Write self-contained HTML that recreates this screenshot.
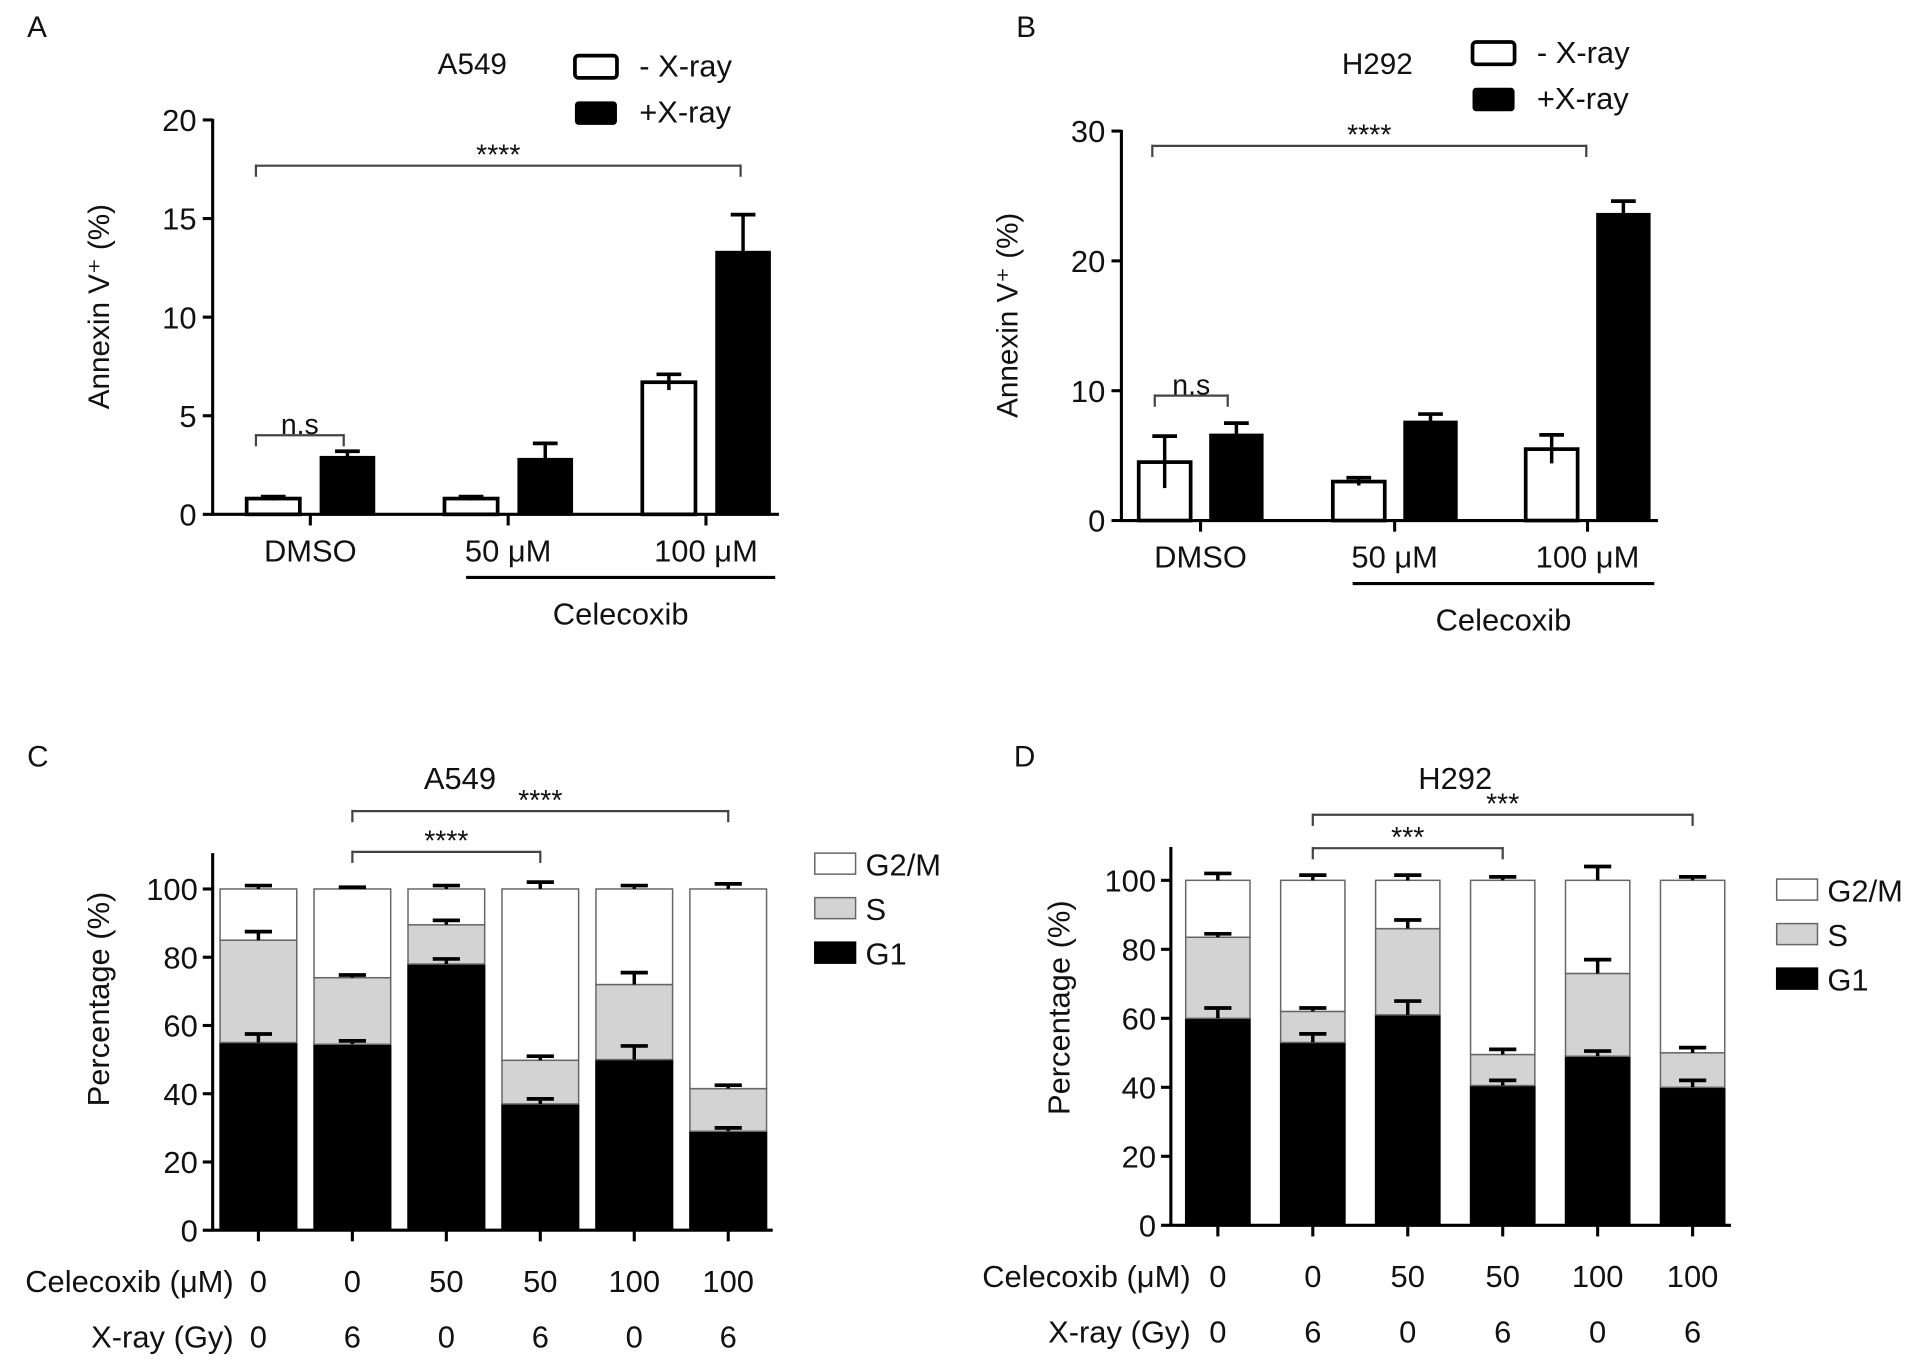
<!DOCTYPE html>
<html><head><meta charset="utf-8">
<style>
html,body{margin:0;padding:0;background:#fff;}
svg{display:block;font-family:"Liberation Sans",Arial,sans-serif;}
</style></head>
<body>
<svg id="fig" width="1930" height="1365" viewBox="0 0 1561 1104" preserveAspectRatio="none" xmlns="http://www.w3.org/2000/svg">
<rect width="1561" height="1104" fill="#fff"/>
</svg>
<script>
// Panel A/B data (Annexin V+ %)
const groupLabels = ["DMSO", "50 \u03bcM", "100 \u03bcM"];
const aNoX = [0.8, 0.8, 6.7];
const aNoXErr = [0.1, 0.1, 0.4];
const aX = [2.9, 2.8, 13.3];
const aXErr = [0.3, 0.8, 1.9];
const aTicks = [0, 5, 10, 15, 20];
const bNoX = [4.5, 3.0, 5.5];
const bNoXErr = [2.0, 0.3, 1.1];
const bX = [6.6, 7.6, 23.6];
const bXErr = [0.9, 0.6, 1.0];
const bTicks = [0, 10, 20, 30];
// Panel C/D data (cell cycle %)
const celecoxib = ["0", "0", "50", "50", "100", "100"];
const xray = ["0", "6", "0", "6", "0", "6"];
const pctTicks = [0, 20, 40, 60, 80, 100];
const cG1 = [55, 54.5, 78, 37, 50, 29];
const cG1Err = [2.5, 1, 1.5, 1.5, 4, 1];
const cS = [30, 19.5, 11.5, 12.8, 22, 12.5];
const cSErr = [2.5, 0.8, 1.3, 1.2, 3.5, 1];
const cG2 = [15, 26, 10.5, 50.2, 28, 58.5];
const cG2Err = [1, 0.5, 1, 2, 1, 1.5];
const dG1 = [60, 53, 61, 40.5, 49, 40];
const dG1Err = [3, 2.5, 4, 1.5, 1.5, 2];
const dS = [23.5, 9, 25, 9, 24, 10];
const dSErr = [1, 1, 2.5, 1.5, 4, 1.5];
const dG2 = [16.5, 38, 14, 50.5, 27, 50];
const dG2Err = [2, 1.5, 1.5, 1, 4, 1];

const NS = "http://www.w3.org/2000/svg";
const svg = document.getElementById('fig');
function mk(tag, attrs, parent, text) {
  const e = document.createElementNS(NS, tag);
  for (const k in attrs) e.setAttribute(k, attrs[k]);
  if (text !== undefined) e.textContent = text;
  (parent || svg).appendChild(e);
  return e;
}
function txt(x, y, s, size, anchor, parent, name) {
  const t = mk('text', {x: x, y: y, 'font-size': size, 'text-anchor': anchor || 'middle', fill: '#111'}, parent, s);
  
  
  return t;
}
function line(x1, y1, x2, y2, w, parent, color) {
  return mk('line', {x1: x1, y1: y1, x2: x2, y2: y2, stroke: color || '#000', 'stroke-width': w}, parent);
}
function errBar(x, yTop, yBase, half, parent) {
  line(x, yBase, x, yTop, 2.8, parent);
  line(x - half, yTop, x + half, yTop, 3, parent);
}
function sig(x1, x2, y, label, parent, name, lw) {
  const g = mk('g', {}, parent);
  
  
  line(x1, y, x2, y, lw || 1.8, g, '#444');
  line(x1, y - 1, x1, y + 9, lw || 1.8, g, '#444');
  line(x2, y - 1, x2, y + 9, lw || 1.8, g, '#444');
  txt((x1 + x2) / 2, y - 1, label, 23, 'middle', g, name + '-label');
}

// ---------- Bar chart panels A/B ----------
function barPanel(p) {
  const g = mk('g', {});
  
  
  const yMax = p.ticks[p.ticks.length - 1];
  const Y = v => p.y0 - (v / yMax) * (p.y0 - p.yTop);
  txt(p.letterX, 30, p.letter, 24, 'start', g, 'panel-label');
  txt(p.titleX, p.titleY, p.title, 24, 'middle', g, 'chart-title');
  const lg = mk('g', {}, g);
  
  
  const l1 = mk('rect', {x: p.legX, y: p.legY, width: 34, height: 18, rx: 3, fill: '#fff', stroke: '#000', 'stroke-width': 3}, lg);
  
  
  txt(p.legX + 52, p.legY + 17, '- X-ray', 25, 'start', lg, 'legend-entry-no-xray');
  const l2 = mk('rect', {x: p.legX, y: p.legY + 37, width: 34, height: 19, rx: 3, fill: '#000'}, lg);
  
  
  txt(p.legX + 52, p.legY + 54, '+X-ray', 25, 'start', lg, 'legend-entry-xray');
  const ax = mk('g', {}, g);
  
  
  line(p.x0, p.yTop - 1, p.x0, p.y0 + 1, 2.5, ax);
  p.ticks.forEach(t => {
    line(p.x0 - 8, Y(t), p.x0, Y(t), 2.5, ax);
    txt(p.x0 - 13, Y(t) + 9, String(t), 25, 'end', ax, 'y-tick-label');
  });
  const xa = mk('g', {}, g);
  
  
  line(p.x0, p.y0, p.xEnd, p.y0, 2.5, xa);
  const yt = txt(0, 0, 'Annexin V\u207a (%)', 24, 'middle', g, 'y-axis-title');
  yt.setAttribute('transform', 'translate(' + p.yTitleX + ',' + p.yTitleY + ') rotate(-90)');
  groupLabels.forEach((lab, i) => {
    const cx = p.groupX[i];
    line(cx, p.y0, cx, p.y0 + 9, 2.5, xa);
    txt(cx, p.y0 + 38, lab, 25, 'middle', xa, 'x-tick-label');
    const wx = cx - p.off - p.bw / 2;
    const bx = cx + p.off - p.bw / 2;
    const wTop = Y(p.noX[i]);
    const r1 = mk('rect', {x: wx, y: wTop, width: p.bw, height: p.y0 - wTop, fill: '#fff', stroke: '#000', 'stroke-width': 3}, g);
    
    
    errBar(cx - p.off, Y(p.noX[i] + p.noXErr[i]), Y(p.noX[i] - p.noXErr[i]), 10, g);
    const bTop = Y(p.x[i]);
    const r2 = mk('rect', {x: bx, y: bTop, width: p.bw, height: p.y0 - bTop, fill: '#000', stroke: '#000', 'stroke-width': 2}, g);
    
    
    errBar(cx + p.off, Y(p.x[i] + p.xErr[i]), bTop, 10, g);
  });
  line(p.celX1, p.y0 + 51, p.celX2, p.y0 + 51, 2.5, g);
  txt((p.celX1 + p.celX2) / 2, p.y0 + 89, 'Celecoxib', 25, 'middle', g, 'celecoxib-group-label');
  sig(p.sigX1, p.sigX2, p.sigY, '****', g, 'significance-bracket-all');
  sig(p.nsX1, p.nsX2, p.nsY, 'n.s', g, 'significance-bracket-ns');
}
barPanel({name: 'panel-a', letter: 'A', letterX: 22, title: 'A549', titleX: 382, titleY: 60,
  legX: 465, legY: 45, x0: 172, xEnd: 630, y0: 416, yTop: 97, ticks: aTicks,
  groupX: [251, 411, 571], off: 30, bw: 43, noX: aNoX, noXErr: aNoXErr, x: aX, xErr: aXErr,
  yTitleX: 88, yTitleY: 248, celX1: 377, celX2: 627, sigX1: 207, sigX2: 599, sigY: 134,
  nsX1: 207, nsX2: 278, nsY: 352});
barPanel({name: 'panel-b', letter: 'B', letterX: 822, title: 'H292', titleX: 1114, titleY: 60,
  legX: 1191, legY: 34, x0: 907, xEnd: 1341, y0: 421, yTop: 106, ticks: bTicks,
  groupX: [971, 1128, 1284], off: 29, bw: 42, noX: bNoX, noXErr: bNoXErr, x: bX, xErr: bXErr,
  yTitleX: 823, yTitleY: 255, celX1: 1094, celX2: 1338, sigX1: 932, sigX2: 1283, sigY: 118,
  nsX1: 934, nsX2: 993, nsY: 320});

// ---------- Stacked panels C/D ----------
function stackPanel(p) {
  const g = mk('g', {});
  
  
  const Y = v => p.y0 - (v / 100) * (p.y0 - p.y100);
  txt(p.letterX, 620, p.letter, 24, 'start', g, 'panel-label');
  txt(p.titleX, 638, p.title, 25, 'middle', g, 'chart-title');
  const ax = mk('g', {}, g);
  
  
  line(p.x0, p.yTop, p.x0, p.y0 + 1, 2.5, ax);
  pctTicks.forEach(t => {
    line(p.x0 - 8, Y(t), p.x0, Y(t), 2.5, ax);
    txt(p.x0 - 12, Y(t) + 9, String(t), 25, 'end', ax, 'y-tick-label');
  });
  const xa = mk('g', {}, g);
  
  
  line(p.x0, p.y0, p.xEnd, p.y0, 2.5, xa);
  const yt = txt(0, 0, 'Percentage  (%)', 25, 'middle', g, 'y-axis-title');
  yt.setAttribute('transform', 'translate(' + p.yTitleX + ',' + p.yTitleY + ') rotate(-90)');
  txt(p.rowLabelX, p.y0 + 50, 'Celecoxib (\u03bcM)', 25, 'end', g, 'celecoxib-row-label');
  txt(p.rowLabelX, p.y0 + 95, 'X-ray (Gy)', 25, 'end', g, 'xray-row-label');
  celecoxib.forEach((c, i) => {
    const cx = p.x0 + p.first + i * p.step;
    line(cx, p.y0, cx, p.y0 + 9, 2.5, xa);
    txt(cx, p.y0 + 50, c, 25, 'middle', xa, 'celecoxib-dose-label');
    txt(cx, p.y0 + 95, xray[i], 25, 'middle', xa, 'xray-dose-label');
    const bx = cx - p.bw / 2;
    const g1 = p.g1[i], s = p.s[i], g2 = p.g2[i];
    const segs = [[0, g1, '#000', 'g1'], [g1, g1 + s, '#d3d3d3', 's'], [g1 + s, g1 + s + g2, '#fff', 'g2m']];
    segs.forEach(sg => {
      const r = mk('rect', {x: bx, y: Y(sg[1]), width: p.bw, height: Y(sg[0]) - Y(sg[1]), fill: sg[2], stroke: sg[2] === '#000' ? '#000' : '#666', 'stroke-width': 1.2}, g);
      
      
    });
    errBar(cx, Y(g1 + p.g1Err[i]), Y(g1), 11, g);
    errBar(cx, Y(g1 + s + p.sErr[i]), Y(g1 + s), 11, g);
    errBar(cx, Y(g1 + s + g2 + p.g2Err[i]), Y(g1 + s + g2), 11, g);
  });
  const lg = mk('g', {}, g);
  
  
  [['G2/M', '#fff'], ['S', '#d3d3d3'], ['G1', '#000']].forEach((e, k) => {
    const r = mk('rect', {x: p.legX, y: p.legY + k * 36, width: 33, height: 17, fill: e[1], stroke: e[1] === '#000' ? '#000' : '#666', 'stroke-width': 1.2}, lg);
    
    
    txt(p.legX + 41, p.legY + k * 36 + 18, e[0], 25, 'start', lg, 'legend-entry');
  });
  sig(p.x0 + p.first + p.step, p.x0 + p.first + 5 * p.step, p.sig1Y, p.stars, g, 'significance-bracket-long');
  sig(p.x0 + p.first + p.step, p.x0 + p.first + 3 * p.step, p.sig2Y, p.stars, g, 'significance-bracket-short');
}
stackPanel({name: 'panel-c', letter: 'C', letterX: 22, title: 'A549', titleX: 372, x0: 172, xEnd: 625,
  y0: 995, y100: 719, yTop: 690, first: 37, step: 76, bw: 62,
  g1: cG1, g1Err: cG1Err, s: cS, sErr: cSErr, g2: cG2, g2Err: cG2Err,
  yTitleX: 88, yTitleY: 808, rowLabelX: 189, legX: 659, legY: 690, sig1Y: 656, sig2Y: 689, stars: '****'});
stackPanel({name: 'panel-d', letter: 'D', letterX: 820, title: 'H292', titleX: 1177, x0: 947, xEnd: 1400,
  y0: 991, y100: 712, yTop: 685, first: 38, step: 76.8, bw: 52,
  g1: dG1, g1Err: dG1Err, s: dS, sErr: dSErr, g2: dG2, g2Err: dG2Err,
  yTitleX: 865, yTitleY: 815, rowLabelX: 963, legX: 1437, legY: 711, sig1Y: 659, sig2Y: 686, stars: '***'});
</script>
</body></html>
